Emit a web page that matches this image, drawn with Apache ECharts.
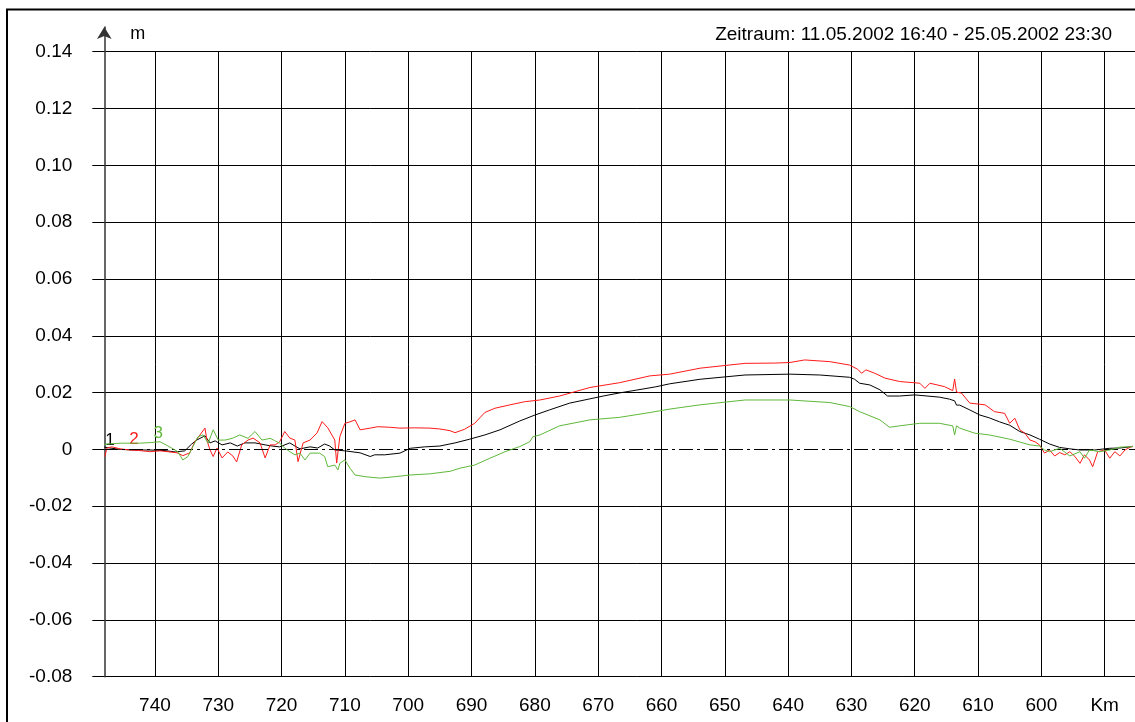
<!DOCTYPE html>
<html>
<head>
<meta charset="utf-8">
<script src="https://cdn.jsdelivr.net/npm/echarts@6/dist/echarts.min.js"></script>
<style>
  html, body { margin: 0; padding: 0; background: #fff; overflow: hidden; }
  #chart { width: 1168px; height: 722px; }
</style>
</head>
<body>
<div id="chart"></div>
<script>
// river km (x) and water level difference in m (y)
const km1 = [748.0,747.1,745.5,743.2,740.8,738.4,736.8,735.3,734.2,733.4,732.1,731.3,730.5,729.4,728.1,727.0,725.8,724.2,722.6,721.5,720.3,718.7,717.9,717.1,715.5,714.3,713.2,712.4,711.6,710.0,707.6,706.0,705.3,703.7,701.3,699.7,697.4,695.0,692.6,690.3,687.9,685.5,682.4,680.0,677.7,674.5,671.3,669.2,666.6,663.9,661.0,658.7,653.9,646.8,639.7,635.0,630.3,629.5,628.7,627.1,625.5,624.3,622.4,620.0,616.1,614.5,613.7,613.4,612.9,611.3,609.7,608.2,606.6,605.0,603.4,601.8,600.3,598.7,597.1,595.5,593.9,591.6,590.0,589.2,587.6,585.6];
const val1 = [0.0008,0.0005,0.0,-0.0002,-0.0002,-0.0004,-0.0009,-0.0005,0.0019,0.0033,0.0048,0.0023,0.003,0.0016,0.0023,0.0012,0.0023,0.0023,0.0016,0.0012,0.0009,0.0023,0.0012,0.0002,0.0009,0.0005,0.0019,0.0012,-0.0002,-0.0005,-0.0012,-0.0025,-0.0019,-0.0019,-0.0013,0.0004,0.0009,0.0012,0.0023,0.0036,0.0051,0.0069,0.01,0.0121,0.0139,0.0163,0.0178,0.0188,0.0199,0.0209,0.022,0.0231,0.0247,0.0262,0.0265,0.0262,0.0254,0.0247,0.0233,0.0227,0.021,0.0188,0.0188,0.0192,0.0184,0.0177,0.0171,0.0156,0.0156,0.0139,0.0121,0.0111,0.0097,0.0085,0.0063,0.0051,0.0036,0.0019,0.0007,0.0002,-0.0002,-0.0002,0.0002,0.0004,0.0005,0.001];

const km2 = [747.9,747.6,746.8,745.5,744.0,742.4,740.8,739.2,737.6,736.5,735.6,734.5,733.7,732.9,732.1,731.8,731.3,730.8,730.2,729.4,728.5,727.7,727.1,726.3,725.3,724.5,723.4,722.6,721.8,721.0,720.3,719.5,718.7,717.9,717.4,716.6,715.5,714.4,713.6,712.7,711.6,711.3,710.8,710.0,709.2,708.4,707.6,706.0,704.8,702.9,701.3,699.0,696.6,695.0,693.4,692.6,691.1,689.5,688.7,687.9,686.3,683.9,681.6,679.2,676.1,671.3,666.6,661.8,658.7,653.9,646.8,642.1,639.7,637.4,633.4,630.3,629.0,628.4,627.7,626.3,624.7,622.4,619.2,618.4,617.6,615.3,614.0,613.7,613.4,612.6,611.3,608.9,607.4,605.8,605.0,604.2,603.4,602.6,601.8,601.0,600.3,599.5,598.7,597.9,597.1,596.3,595.5,594.7,593.9,593.2,592.4,591.9,591.1,590.0,589.2,588.4,587.6,586.8,585.6];
const val2 = [-0.0025,0.0005,0.0009,0.0002,-0.0002,-0.0004,-0.0008,-0.0005,-0.0009,-0.0012,-0.0022,-0.0012,0.0027,0.0051,0.0075,0.0033,-0.0002,-0.0025,0.0005,-0.003,-0.0009,-0.0023,-0.0044,0.0016,0.0033,0.004,0.0023,-0.003,0.0016,0.0016,0.0027,0.0063,0.004,0.0033,-0.0043,0.0023,0.0033,0.0058,0.0098,0.0076,0.0033,-0.0048,0.0045,0.0092,0.0097,0.0104,0.0069,0.0075,0.008,0.0078,0.0075,0.0076,0.0075,0.0072,0.0066,0.0059,0.0071,0.0092,0.0111,0.013,0.0145,0.0157,0.0168,0.0174,0.0188,0.0218,0.0235,0.0259,0.0265,0.0286,0.0303,0.0304,0.0306,0.0315,0.0309,0.0297,0.0282,0.0268,0.028,0.0268,0.0251,0.0239,0.0233,0.0215,0.0233,0.0221,0.0207,0.0248,0.0202,0.0198,0.0163,0.0157,0.0133,0.0127,0.0092,0.011,0.0069,0.0057,0.0033,0.0027,0.0016,-0.0013,-0.0002,-0.0023,-0.0011,-0.0019,-0.0008,-0.0025,-0.0049,-0.0019,-0.0037,-0.0061,-0.0008,-0.0002,-0.0031,-0.0008,-0.0023,-0.0002,0.0012];

const km3 = [748.0,745.5,742.4,740.8,739.2,738.0,737.3,736.4,735.6,734.8,734.0,733.2,732.4,731.6,730.8,730.0,728.9,727.8,726.6,725.3,724.2,723.1,721.8,721.1,720.3,719.5,718.7,717.9,717.1,716.3,715.5,714.0,713.2,712.7,711.6,711.1,710.8,710.0,709.2,708.4,706.8,704.5,702.1,699.7,696.6,693.4,691.8,689.5,687.1,684.7,682.4,680.8,680.3,679.2,676.1,671.3,666.6,661.8,658.7,653.9,646.8,639.7,633.4,630.3,628.7,625.5,624.0,622.4,619.2,616.1,614.0,613.7,613.4,612.9,610.5,608.2,605.0,601.8,600.3,599.5,598.7,597.1,595.5,593.9,593.2,592.4,590.8,589.2,587.6,585.6];
const val3 = [0.0018,0.0022,0.0022,0.0024,0.0027,0.0013,0.0004,-0.0008,-0.0037,-0.0025,0.001,0.0045,0.0051,0.0022,0.0069,0.0033,0.0033,0.0039,0.0051,0.0039,0.0063,0.0033,0.0039,0.0031,0.0022,0.0005,-0.0008,-0.0019,-0.0013,-0.0037,-0.0013,-0.0013,-0.0025,-0.0061,-0.0055,-0.0072,-0.0049,-0.0037,-0.0066,-0.009,-0.0096,-0.0101,-0.0096,-0.009,-0.0086,-0.0077,-0.0066,-0.0055,-0.0031,-0.0008,0.001,0.0027,0.0045,0.0051,0.0083,0.0104,0.0113,0.013,0.0142,0.0157,0.0174,0.0174,0.0165,0.0151,0.0133,0.0104,0.0078,0.0083,0.0092,0.0092,0.0083,0.0051,0.0083,0.0075,0.0057,0.0051,0.0036,0.0016,0.0012,-0.0002,-0.0008,0.0004,-0.0023,-0.0008,-0.0031,-0.0002,-0.0008,-0.0002,0.0008,0.001];

const seriesNames = ['1', '2', '3'];
const seriesColors = ['#000000', '#ff1a1a', '#5fb83a'];
const tagKm = [747.1, 743.3, 739.5];
const tagVal = [0.0033, 0.0037, 0.0055];

const kmTicks = [590, 600, 610, 620, 630, 640, 650, 660, 670, 680, 690, 700, 710, 720, 730, 740];
const yMin = -0.08, yMax = 0.14, yStep = 0.02;
const title = 'Zeitraum: 11.05.2002 16:40 - 25.05.2002 23:30';

const font = 'Liberation Sans, Arial, sans-serif';

function pairs(xs, ys) {
  const n = Math.min(xs.length, ys.length);
  const out = [];
  for (let i = 0; i < n; i++) out.push([xs[i], ys[i]]);
  return out;
}
const lines = [pairs(km1, val1), pairs(km2, val2), pairs(km3, val3)];

// hide the solid grid line at 0 (dash-dot zero line is drawn instead)
const hColors = [];
for (let v = yMin, i = 0; v <= yMax + 1e-9; v += yStep, i++) {
  hColors.push(Math.abs(v) < 1e-9 ? 'rgba(0,0,0,0)' : '#000');
}
// vertical lines from 580; the extra one at 748 would sit on the y axis
const vColors = [];
for (let i = 0; i < 17; i++) vColors.push('#000');
vColors.push('rgba(0,0,0,0)');

const myChart = echarts.init(document.getElementById('chart'));

// the plot runs on past the right edge of the window (to km 580)
const gridLeft = 104.3, gridRight = 0, gridBottom = 45.3;

const option = {
  animation: false,
  backgroundColor: '#fff',
  textStyle: { fontFamily: font },
  title: {
    text: title,
    right: 51,
    top: 20,
    textStyle: { fontFamily: font, fontSize: 19, fontWeight: 'normal', color: '#000' }
  },
  grid: [
    { left: gridLeft, right: gridRight, top: 51.7, bottom: gridBottom },
    { left: gridLeft, right: gridRight, top: 27, bottom: gridBottom }
  ],
  xAxis: [
    {
      type: 'value',
      gridIndex: 0,
      inverse: true,
      min: 580,
      max: 748,
      interval: 10,
      axisLine: { show: false },
      axisTick: {
        show: true, length: 13, customValues: kmTicks,
        lineStyle: { color: '#000', width: 1 }
      },
      axisLabel: {
        customValues: kmTicks,
        margin: 20,
        fontSize: 19,
        color: '#000',
        fontFamily: font,
        formatter: v => (v === 590 ? 'Km' : (v % 10 === 0 && v >= 590 && v <= 740 ? String(v) : ''))
      },
      splitLine: { show: true, lineStyle: { color: vColors, width: 1 } }
    },
    {
      type: 'value', gridIndex: 1, inverse: true, min: 580, max: 748, show: false
    }
  ],
  yAxis: [
    {
      type: 'value',
      gridIndex: 0,
      min: yMin,
      max: yMax,
      interval: yStep,
      axisLine: { show: false },
      axisTick: { show: true, length: 12, lineStyle: { color: '#000', width: 1 } },
      axisLabel: {
        margin: 32,
        fontSize: 19,
        color: '#000',
        fontFamily: font,
        formatter: v => (Math.abs(v) < 1e-9 ? '0' : v.toFixed(2))
      },
      splitLine: { show: true, lineStyle: { color: hColors, width: 1 } }
    },
    {
      type: 'value',
      gridIndex: 1,
      min: 0,
      max: 1,
      name: 'm',
      nameLocation: 'end',
      nameGap: -16,
      nameTextStyle: { fontFamily: font, fontSize: 18, color: '#000', align: 'left', padding: [0, 0, 0, 26] },
      axisLine: {
        show: true,
        symbol: ['none', 'arrow'],
        symbolSize: [11, 12],
        lineStyle: { color: '#333', width: 1.5 }
      },
      axisTick: { show: false },
      axisLabel: { show: false },
      splitLine: { show: false }
    }
  ],
  graphic: [
    {
      type: 'rect',
      shape: { x: 7, y: 9.5, width: 1200, height: 740 },
      style: { fill: null, stroke: '#000', lineWidth: 2 },
      silent: true
    }
  ],
  series: seriesNames.map((name, i) => ({
    name: name,
    type: 'line',
    xAxisIndex: 0,
    yAxisIndex: 0,
    data: lines[i],
    showSymbol: false,
    symbol: 'none',
    clip: true,
    lineStyle: { color: seriesColors[i], width: 1 },
    z: 3 + i,
    markPoint: {
      symbol: 'circle',
      symbolSize: 1,
      itemStyle: { color: 'rgba(0,0,0,0)' },
      label: {
        show: true,
        formatter: name,
        color: seriesColors[i],
        fontSize: 17,
        fontFamily: font,
        position: 'inside'
      },
      data: [{ coord: [tagKm[i], tagVal[i]] }]
    },
    markLine: i === 0 ? {
      silent: true,
      symbol: ['none', 'none'],
      label: { show: false },
      lineStyle: { color: '#000', width: 1, type: [14, 4, 3, 4] },
      data: [{ yAxis: 0 }]
    } : undefined
  }))
};

myChart.setOption(option);
window.addEventListener('resize', () => { myChart && myChart.resize(); });
</script>
</body>
</html>
